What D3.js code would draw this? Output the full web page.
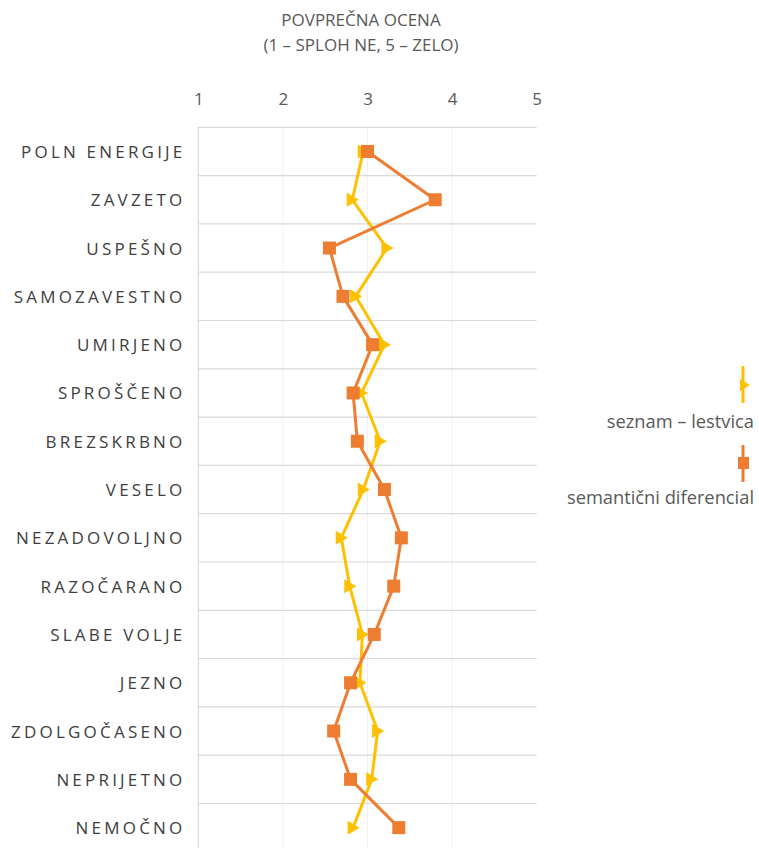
<!DOCTYPE html>
<html>
<head>
<meta charset="utf-8">
<script src="https://cdn.jsdelivr.net/npm/d3@7"></script>
<style>
  body { margin: 0; background: #fff; }
  svg { display: block; font-family: "Open Sans", sans-serif; }
</style>
</head>
<body>
<svg id="chart" width="759" height="848"></svg>
<script>
const categories = ["POLN ENERGIJE","ZAVZETO","USPEŠNO","SAMOZAVESTNO","UMIRJENO","SPROŠČENO","BREZSKRBNO","VESELO","NEZADOVOLJNO","RAZOČARANO","SLABE VOLJE","JEZNO","ZDOLGOČASENO","NEPRIJETNO","NEMOČNO"];
const seznamLestvica = [2.95,2.82,3.23,2.86,3.20,2.93,3.15,2.95,2.69,2.79,2.94,2.91,3.12,3.05,2.83];
const semanticniDiferencial = [3.00,3.80,2.55,2.71,3.06,2.83,2.88,3.20,3.40,3.31,3.08,2.80,2.60,2.80,3.37];
const xTicks = [1,2,3,4,5];
const titleLines = ["POVPREČNA OCENA","(1 – SPLOH NE, 5 – ZELO)"];
const seriesNames = ["seznam – lestvica","semantični diferencial"];

(function(){
const svg = d3.select("#chart");
const pLeft = 198.3, pRight = 536.7, pTop = 127.3, rowH = 48.3;
const x = d3.scaleLinear().domain([1,5]).range([pLeft,pRight]);
const y = d3.scaleBand().domain(categories).range([pTop, pTop + rowH*categories.length]).padding(0);
const cy = c => y(c) + y.bandwidth()/2;

// title
svg.append("g").selectAll("text").data(titleLines).join("text")
  .attr("x", 361).attr("y", (d,i) => 26 + i*25)
  .attr("text-anchor","middle").attr("fill","#595959")
  .style("font-size","17px").text(d => d);

// vertical gridlines
svg.append("g").selectAll("line").data(xTicks.slice(1,4)).join("line")
  .attr("x1", d => x(d)).attr("x2", d => x(d))
  .attr("y1", pTop).attr("y2", 848)
  .attr("stroke","#f0f0f0").attr("stroke-width",1);

// horizontal gridlines
const bounds = categories.map(c => y(c));
svg.append("g").selectAll("line").data(bounds).join("line")
  .attr("x1", pLeft).attr("x2", pRight)
  .attr("y1", d => d).attr("y2", d => d)
  .attr("stroke","#d9d9d9").attr("stroke-width",1.2);

// left axis line
svg.append("line").attr("x1",pLeft).attr("x2",pLeft).attr("y1",pTop).attr("y2",848)
  .attr("stroke","#d9d9d9").attr("stroke-width",1.2);

// top axis
const xAxis = d3.axisTop(x).tickValues(xTicks).tickSize(0).tickPadding(0).tickFormat(d3.format("d"));
const gx = svg.append("g").attr("transform","translate(0,105)").call(xAxis);
gx.select(".domain").remove();
gx.selectAll("text").attr("fill","#595959").style("font-size","17px").style("font-family","Open Sans, sans-serif");

// category labels
const yAxis = d3.axisLeft(y).tickSize(0).tickPadding(0);
const gy = svg.append("g").attr("transform","translate(185.5,1)").call(yAxis);
gy.select(".domain").remove();
gy.selectAll("text").attr("fill","#404040").style("font-size","17px")
  .style("font-family","Open Sans, sans-serif").style("letter-spacing","3.2px");

const yellow = "#FFC000", orange = "#ED7D31";
const tri = "M-5.5,-7L-5.5,7L6.5,0Z";

function drawSeries(vals, color, kind) {
  const line = d3.line().x((d,i) => x(d)).y((d,i) => cy(categories[i]));
  svg.append("path").datum(vals).attr("d", line)
    .attr("fill","none").attr("stroke",color).attr("stroke-width",3).attr("stroke-linejoin","round");
  const g = svg.append("g");
  if (kind === "tri") {
    g.selectAll("path").data(vals).join("path")
      .attr("d", tri).attr("fill", color)
      .attr("transform",(d,i) => `translate(${x(d)},${cy(categories[i])})`);
  } else {
    g.selectAll("rect").data(vals).join("rect")
      .attr("x", d => x(d) - 6.5).attr("y",(d,i) => cy(categories[i]) - 6.5)
      .attr("width",13).attr("height",13).attr("fill",color);
  }
}
drawSeries(seznamLestvica, yellow, "tri");
drawSeries(semanticniDiferencial, orange, "sq");

// legend
const lg = svg.append("g");
const legendItems = [
  {name: seriesNames[0], color: yellow, kind: "tri", y0: 366, y1: 403, my: 385, ty: 428},
  {name: seriesNames[1], color: orange, kind: "sq", y0: 445, y1: 482, my: 463, ty: 504}
];
legendItems.forEach(it => {
  lg.append("line").attr("x1",743).attr("x2",743).attr("y1",it.y0).attr("y2",it.y1)
    .attr("stroke",it.color).attr("stroke-width",3);
  if (it.kind === "tri") {
    lg.append("path").attr("d","M-4,-6L-4,6L6,0Z").attr("fill",it.color)
      .attr("transform",`translate(744,${it.my})`);
  } else {
    lg.append("rect").attr("x",738).attr("y",it.my-6).attr("width",11).attr("height",12).attr("fill",it.color);
  }
  lg.append("text").attr("x",754).attr("y",it.ty).attr("text-anchor","end")
    .attr("fill","#595959").style("font-size","18.3px").text(it.name);
});
})();
</script>
</body>
</html>
